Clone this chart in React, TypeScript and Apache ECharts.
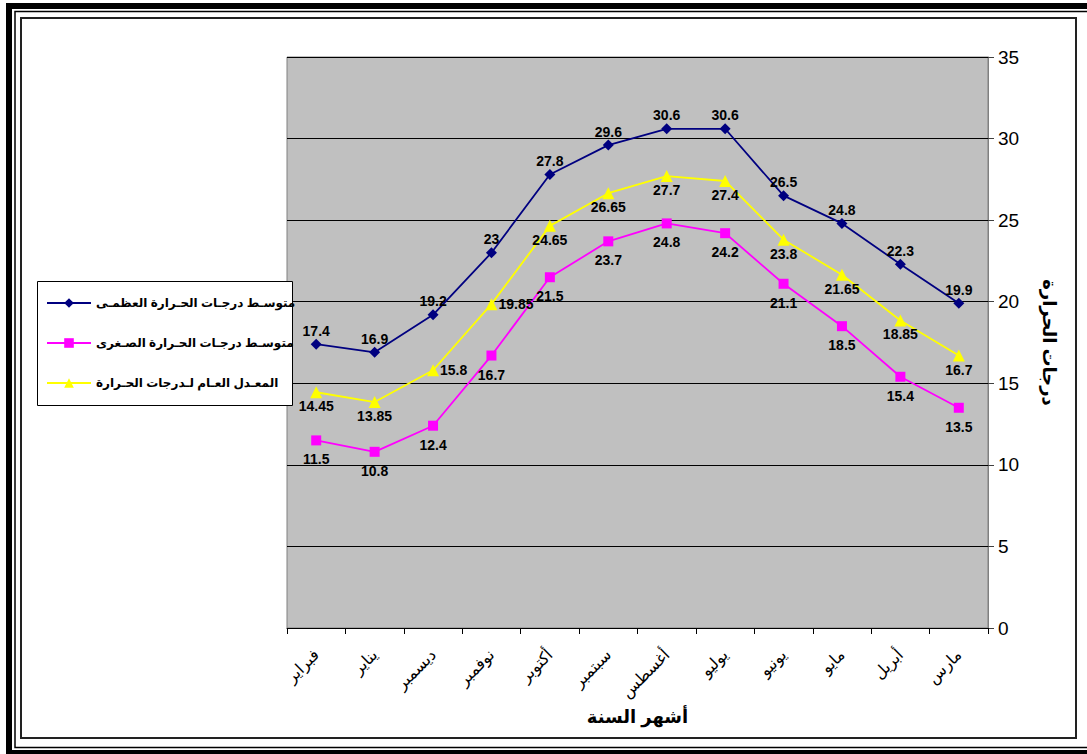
import React, { useEffect, useRef } from "react";
import * as echarts from "echarts";

const months = ["فبراير", "يناير", "ديسمبر", "نوفمبر", "أكتوبر", "سبتمبر", "أغسطس", "يوليو", "يونيو", "مايو", "أبريل", "مارس"];
const maxTemp = [17.4, 16.9, 19.2, 23, 27.8, 29.6, 30.6, 30.6, 26.5, 24.8, 22.3, 19.9];
const minTemp = [11.5, 10.8, 12.4, 16.7, 21.5, 23.7, 24.8, 24.2, 21.1, 18.5, 15.4, 13.5];
const avgTemp = [14.45, 13.85, 15.8, 19.85, 24.65, 26.65, 27.7, 27.4, 23.8, 21.65, 18.85, 16.7];
const seriesNames = [
  "متوسـط درجـات الحـرارة العظمـى",
  "متوسـط درجـات الحـرارة الصـغرى",
  "المعـدل العـام لـدرجات الحـرارة",
];
const yTicks = [0, 5, 10, 15, 20, 25, 30, 35];
const avgLabelPos = ["bottom", "bottom", "right", "right", "bottom", "bottom", "bottom", "bottom", "bottom", "bottom", "bottom", "bottom"];

const FONT = "Arial, 'Liberation Sans', 'DejaVu Sans', sans-serif";

export default function App() {
  const ref = useRef<HTMLDivElement>(null);
  useEffect(() => {
    document.body.style.margin = "0";
    const chart = echarts.init(ref.current!, null, { renderer: "svg" });
    const labelBase = {
      show: true,
      fontFamily: FONT,
      fontWeight: "bold" as const,
      fontSize: 14,
      color: "#000",
    };
    chart.setOption({
      animation: false,
      backgroundColor: "#fff",
      textStyle: { fontFamily: FONT },
      grid: {
        left: 287,
        top: 57,
        width: 701,
        height: 571,
        show: true,
        backgroundColor: "#C0C0C0",
        borderColor: "#808080",
        borderWidth: 1,
      },
      legend: {
        orient: "vertical",
        left: 41,
        top: 292,
        itemWidth: 44,
        itemHeight: 12,
        itemGap: 28,
        z: 20,
        textStyle: { fontFamily: FONT, fontWeight: "bold", fontSize: 12, color: "#000" },
        data: seriesNames,
      },
      graphic: [
        { type: "rect", z: 100, silent: true, shape: { x: 9, y: 6, width: 1200, height: 747 }, style: { fill: "none", stroke: "#000", lineWidth: 6 } },
        { type: "rect", z: 100, silent: true, shape: { x: 15, y: 11.5, width: 1200, height: 736 }, style: { fill: "none", stroke: "#000", lineWidth: 1.5 } },
        { type: "rect", z: 100, silent: true, shape: { x: 21, y: 18, width: 1055, height: 720 }, style: { fill: "none", stroke: "#222", lineWidth: 2 } },
        { type: "rect", z: 10, silent: true, shape: { x: 37.5, y: 281.5, width: 255, height: 124 }, style: { fill: "#fff", stroke: "#000", lineWidth: 1 } },
      ],
      xAxis: {
        type: "category",
        data: months,
        boundaryGap: true,
        name: "أشهر السنة",
        nameLocation: "middle",
        nameGap: 80,
        nameTextStyle: { fontFamily: FONT, fontWeight: "bold", fontSize: 18, color: "#000" },
        axisLine: { show: true, lineStyle: { color: "#000", width: 1 } },
        axisTick: { show: true, alignWithLabel: false, length: 6, lineStyle: { color: "#000" } },
        axisLabel: { rotate: 45, fontFamily: FONT, fontSize: 16, color: "#000", margin: 24, interval: 0 },
        splitLine: { show: false },
      },
      yAxis: {
        type: "value",
        position: "right",
        min: yTicks[0],
        max: yTicks[yTicks.length - 1],
        interval: 5,
        name: "درجات الحرارة",
        nameLocation: "middle",
        nameRotate: -90,
        nameGap: 52,
        nameTextStyle: { fontFamily: FONT, fontWeight: "bold", fontSize: 18, color: "#000" },
        axisLine: { show: true, lineStyle: { color: "#808080" } },
        axisTick: { show: true, length: 6, lineStyle: { color: "#404040" } },
        axisLabel: { fontFamily: FONT, fontSize: 19, color: "#000", margin: 10 },
        splitLine: { show: true, lineStyle: { color: "#000", width: 1 } },
      },
      series: [
        {
          name: seriesNames[0],
          type: "line",
          data: maxTemp,
          symbol: "diamond",
          symbolSize: 11,
          itemStyle: { color: "#000080" },
          lineStyle: { color: "#000080", width: 1.8 },
          label: { ...labelBase, position: "top", distance: 1 },
          z: 3,
        },
        {
          name: seriesNames[1],
          type: "line",
          data: minTemp,
          symbol: "rect",
          symbolSize: 10,
          itemStyle: { color: "#FF00FF" },
          lineStyle: { color: "#FF00FF", width: 1.8 },
          label: { ...labelBase, position: "bottom", distance: 7 },
          z: 3,
        },
        {
          name: seriesNames[2],
          type: "line",
          data: avgTemp.map((v, i) => ({
            value: v,
            label: { position: avgLabelPos[i] },
          })),
          symbol: "triangle",
          symbolSize: 12,
          itemStyle: { color: "#FFFF00" },
          lineStyle: { color: "#FFFF00", width: 1.8 },
          label: { ...labelBase, position: "bottom", distance: 1 },
          z: 3,
        },
      ],
    });
    return () => chart.dispose();
  }, []);
  return <div ref={ref} style={{ width: 1087, height: 754 }} />;
}
